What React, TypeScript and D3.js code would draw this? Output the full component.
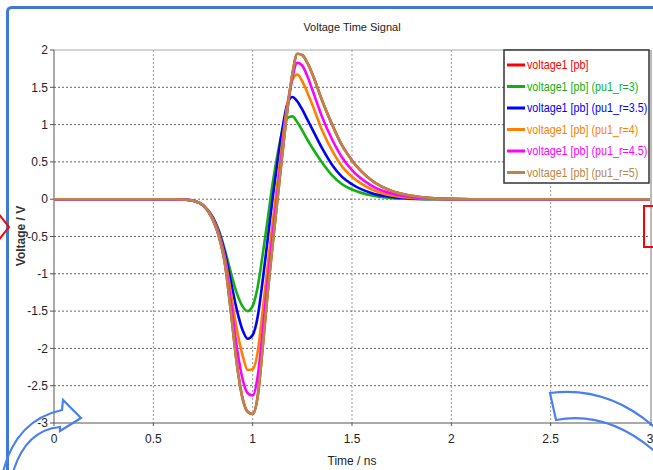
import React from 'react';
import * as d3 from 'd3';

const TITLE = 'Voltage Time Signal';
const X_LABEL = 'Time / ns';
const Y_LABEL = 'Voltage / V';
const X_TICKS = [0, 0.5, 1, 1.5, 2, 2.5, 3];
const Y_TICKS = [2, 1.5, 1, 0.5, 0, -0.5, -1, -1.5, -2, -2.5, -3];

const TIME = [0, 0.3, 0.6, 0.65, 0.7, 0.75, 0.8, 0.83, 0.86, 0.89, 0.92, 0.95, 0.975, 1.0, 1.025, 1.05, 1.075, 1.1, 1.125, 1.15, 1.175, 1.2, 1.225, 1.25, 1.275, 1.3, 1.35, 1.4, 1.45, 1.5, 1.6, 1.7, 1.8, 1.9, 2.0, 2.1, 3.0];

const V_GREEN = [0, 0, 0, -0.004, -0.02, -0.08, -0.24, -0.42, -0.68, -0.98, -1.26, -1.44, -1.5, -1.43, -1.18, -0.75, -0.28, 0.2, 0.6, 0.92, 1.09, 1.11, 1.03, 0.92, 0.8, 0.69, 0.49, 0.32, 0.2, 0.13, 0.05, 0.015, 0.004, 0, 0, 0, 0];
const V_BLUE = [0, 0, 0, -0.004, -0.02, -0.08, -0.25, -0.44, -0.72, -1.1, -1.48, -1.76, -1.87, -1.82, -1.58, -1.1, -0.55, 0.0, 0.5, 0.95, 1.28, 1.37, 1.31, 1.2, 1.07, 0.94, 0.68, 0.46, 0.3, 0.2, 0.08, 0.03, 0.01, 0.002, 0, 0, 0];
const V_ORANGE = [0, 0, 0, -0.004, -0.02, -0.08, -0.26, -0.46, -0.78, -1.25, -1.74, -2.1, -2.29, -2.28, -2.05, -1.5, -0.9, -0.32, 0.22, 0.78, 1.28, 1.6, 1.67, 1.58, 1.43, 1.27, 0.92, 0.65, 0.44, 0.3, 0.13, 0.05, 0.018, 0.005, 0, 0, 0];
const V_MAGENTA = [0, 0, 0, -0.004, -0.02, -0.08, -0.27, -0.48, -0.82, -1.38, -1.98, -2.42, -2.6, -2.63, -2.38, -1.78, -1.1, -0.5, 0.08, 0.68, 1.22, 1.63, 1.83, 1.79, 1.65, 1.47, 1.1, 0.8, 0.56, 0.39, 0.18, 0.075, 0.028, 0.009, 0.002, 0, 0];
const V_BROWN = [0, 0, 0, -0.004, -0.02, -0.08, -0.28, -0.5, -0.86, -1.5, -2.2, -2.68, -2.85, -2.88, -2.65, -2.0, -1.27, -0.62, 0.0, 0.62, 1.2, 1.68, 1.95, 1.93, 1.83, 1.68, 1.32, 1.0, 0.72, 0.52, 0.25, 0.11, 0.045, 0.015, 0.004, 0, 0];
const V_RED = V_BROWN;

const SERIES_NAMES = ['voltage1 [pb]', 'voltage1 [pb] (pu1_r=3)', 'voltage1 [pb] (pu1_r=3.5)', 'voltage1 [pb] (pu1_r=4)', 'voltage1 [pb] (pu1_r=4.5)', 'voltage1 [pb] (pu1_r=5)'];
const SERIES_COLORS = ['#ff0000', '#12b012', '#0000ff', '#ff8000', '#ff00ff', '#b8864a'];
const SERIES_VALUES = [V_RED, V_GREEN, V_BLUE, V_ORANGE, V_MAGENTA, V_BROWN];

const FONT = '"Liberation Sans", Arial, sans-serif';

export default function App() {
  const L = 54, R = 650, T = 50, B = 423;
  const x = d3.scaleLinear().domain([0, 3]).range([L, R]);
  const y = d3.scaleLinear().domain([-3, 2]).range([B, T]);
  const line = d3.line<number>()
    .x((_, i) => x(TIME[i]))
    .y((d) => y(d))
    .curve(d3.curveMonotoneX);

  const legX = 504, legY = 50, legW = 145, legH = 133;

  return (
    <svg width={653} height={470} style={{ position: 'absolute', left: 0, top: 0, background: '#fff' }} fontFamily={FONT}>
      <rect x={0} y={0} width={653} height={470} fill="#fff" />
      <text x={352} y={31} fontSize={11} textAnchor="middle" fill="#222">{TITLE}</text>
      {X_TICKS.slice(1, -1).map((t) => (
        <line key={'gx' + t} x1={x(t)} x2={x(t)} y1={T} y2={B} stroke="#9a9a9a" strokeWidth={1} strokeDasharray="2,2" />
      ))}
      {Y_TICKS.slice(1, -1).map((t) => (
        <line key={'gy' + t} x1={L} x2={R} y1={y(t)} y2={y(t)} stroke="#666" strokeWidth={1} strokeDasharray="2,2" />
      ))}
      <line x1={L} x2={R} y1={T} y2={T} stroke="#aaa" strokeWidth={1} />
      <line x1={R + 1} x2={R + 1} y1={T} y2={B} stroke="#bbb" strokeWidth={2} />
      <line x1={L} x2={L} y1={T} y2={B} stroke="#555" strokeWidth={1} />
      <line x1={L} x2={R + 2} y1={B} y2={B} stroke="#555" strokeWidth={1} />
      {Y_TICKS.map((t) => (
        <g key={'ty' + t}>
          <line x1={L - 4} x2={L} y1={y(t)} y2={y(t)} stroke="#555" />
          <text x={L - 6} y={y(t)} dy="0.35em" fontSize={12} textAnchor="end" fill="#222">{String(t)}</text>
        </g>
      ))}
      {X_TICKS.map((t) => (
        <g key={'tx' + t}>
          <line x1={x(t)} x2={x(t)} y1={B} y2={B + 3} stroke="#555" />
          <text x={x(t)} y={443} fontSize={12} textAnchor="middle" fill="#222">{String(t)}</text>
        </g>
      ))}
      <text x={352} y={465} fontSize={12} textAnchor="middle" fill="#222">{X_LABEL}</text>
      <text transform="translate(25,236) rotate(-90)" fontSize={12} fontWeight="bold" textAnchor="middle" fill="#333">{Y_LABEL}</text>
      <defs>
        <clipPath id="plotclip"><rect x={L} y={T - 5} width={R - L + 2} height={B - T + 10} /></clipPath>
      </defs>
      <g clipPath="url(#plotclip)">
        {SERIES_VALUES.map((vals, i) => (
          <path key={'s' + i} d={line(vals) || ''} fill="none" stroke={SERIES_COLORS[i]} strokeWidth={2.6} strokeLinejoin="round" />
        ))}
      </g>
      <rect x={legX} y={legY} width={legW} height={legH} fill="#fff" stroke="#333" strokeWidth={1.5} />
      {SERIES_NAMES.map((n, i) => {
        const cy = 65 + i * 21.5;
        return (
          <g key={'l' + i}>
            <line x1={507} x2={525} y1={cy} y2={cy} stroke={SERIES_COLORS[i]} strokeWidth={3} />
            <text transform={`translate(527,${cy}) scale(0.86,1)`} dy="0.35em" fontSize={12.5} fill={SERIES_COLORS[i]}>{n}</text>
          </g>
        );
      })}
      <path d="M 7.5 480 L 7.5 12 Q 7.5 7.5 12 7.5 L 660 7.5" fill="none" stroke="#3d7ad6" strokeWidth={3} />
      <path d="M -2 213 L 9 227 L -2 241" fill="none" stroke="#ff0000" strokeWidth={2} />
      <rect x={644} y={206} width={20} height={41} fill="none" stroke="#ff0000" strokeWidth={2} />
      <path d="M 3 472 Q 16 420 62 410 L 63 400 L 81 418 L 60 431 L 60 427 Q 26 430 13 472" fill="none" stroke="#4a7ff0" strokeWidth={2.2} strokeLinejoin="miter" />
      <path d="M 550 393 Q 610 385 660 432 L 660 456 Q 610 410 556 420 Z" fill="none" stroke="#4a7ff0" strokeWidth={2.2} />
    </svg>
  );
}
